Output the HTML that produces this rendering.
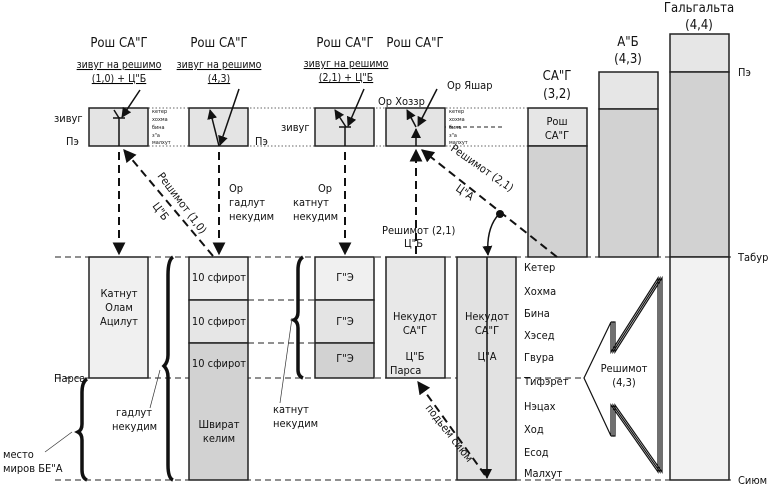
<!DOCTYPE html>
<html><head><meta charset="utf-8"><style>
body{margin:0;background:#fff}
svg{display:block}
text{font-family:"DejaVu Sans Condensed","Liberation Sans",sans-serif;fill:#111}
</style></head><body>
<svg width="770" height="486" viewBox="0 0 770 486" xmlns="http://www.w3.org/2000/svg">
<defs><marker id="a" viewBox="0 0 10 10" refX="9" refY="5" markerWidth="10" markerHeight="10" markerUnits="userSpaceOnUse" orient="auto"><path d="M0,0L10,5L0,10z" fill="#111"/></marker>
<marker id="b" viewBox="0 0 10 10" refX="9" refY="5" markerWidth="13" markerHeight="13" markerUnits="userSpaceOnUse" orient="auto"><path d="M0,0L10,5L0,10z" fill="#111"/></marker></defs>
<g stroke="#666" stroke-width="1" stroke-dasharray="1.5,2" fill="none">
<line x1="89" y1="108" x2="528" y2="108"/><line x1="89" y1="146" x2="528" y2="146"/>
</g>
<g stroke="#222" stroke-width="1" stroke-dasharray="6,4" fill="none">
<line x1="55" y1="257" x2="733" y2="257"/>
<line x1="55" y1="378" x2="585" y2="378"/>
<line x1="55" y1="480" x2="733" y2="480"/>
<line x1="248" y1="300" x2="315" y2="300"/>
<line x1="248" y1="343" x2="315" y2="343"/>
<line x1="89" y1="118" x2="148" y2="118" stroke-dasharray="2,2"/>
<line x1="315" y1="127" x2="374" y2="127" stroke-dasharray="4,3"/>
<line x1="386" y1="127" x2="505" y2="127" stroke-dasharray="4,3"/>
</g>
<g stroke="#222" stroke-width="1.5" fill="#e4e4e4">
<rect x="89" y="108" width="59" height="38"/>
<rect x="189" y="108" width="59" height="38"/>
<rect x="315" y="108" width="59" height="38"/>
<rect x="386" y="108" width="59" height="38"/>
<rect x="89" y="257" width="59" height="121" fill="#f0f0f0"/>
<rect x="189" y="257" width="59" height="43" fill="#f0f0f0"/>
<rect x="189" y="300" width="59" height="43" fill="#e6e6e6"/>
<rect x="189" y="343" width="59" height="137" fill="#d2d2d2"/>
<rect x="315" y="257" width="59" height="43" fill="#f0f0f0"/>
<rect x="315" y="300" width="59" height="43" fill="#e4e4e4"/>
<rect x="315" y="343" width="59" height="35" fill="#d2d2d2"/>
<rect x="386" y="257" width="59" height="121" fill="#e8e8e8"/>
<rect x="457" y="257" width="59" height="223" fill="#e2e2e2"/>
<rect x="528" y="108" width="59" height="38" fill="#e6e6e6"/>
<rect x="528" y="146" width="59" height="111" fill="#d2d2d2"/>
<rect x="599" y="72" width="59" height="37" fill="#e6e6e6"/>
<rect x="599" y="109" width="59" height="148" fill="#d2d2d2"/>
<rect x="670" y="34" width="59" height="38" fill="#e6e6e6"/>
<rect x="670" y="72" width="59" height="185" fill="#d2d2d2"/>
<rect x="670" y="257" width="59" height="223" fill="#f2f2f2"/>
</g>
<g font-size="13" text-anchor="middle">
<text x="119" y="47">Рош СА"Г</text><text x="219" y="47">Рош СА"Г</text>
<text x="345" y="47">Рош СА"Г</text><text x="415" y="47">Рош СА"Г</text>
<text x="557" y="80">СА"Г</text><text x="557" y="98">(3,2)</text>
<text x="628" y="46">А"Б</text><text x="628" y="63">(4,3)</text>
<text x="699" y="12">Гальгальта</text><text x="699" y="29">(4,4)</text>
</g>
<g font-size="10.5" text-anchor="middle" text-decoration="underline">
<text x="119" y="68">зивуг на решимо</text><text x="119" y="82">(1,0) + Ц"Б</text>
<text x="219" y="68">зивуг на решимо</text><text x="219" y="82">(4,3)</text>
<text x="346" y="67">зивуг на решимо</text><text x="346" y="81">(2,1) + Ц"Б</text>
</g>
<g font-size="11">
<text x="54" y="122">зивуг</text><text x="66" y="145">Пэ</text><text x="255" y="145">Пэ</text>
<text x="281" y="131">зивуг</text>
<text x="447" y="89">Ор Яшар</text><text x="378" y="105">Ор Хоззр</text>
<text x="229" y="192">Ор</text><text x="229" y="206">гадлут</text><text x="229" y="220">некудим</text>
<text x="318" y="192">Ор</text><text x="293" y="206">катнут</text><text x="293" y="220">некудим</text>
<text x="382" y="234">Решимот (2,1)</text><text x="404" y="247">Ц"Б</text>
<text x="738" y="76">Пэ</text><text x="738" y="261">Табур</text><text x="738" y="484">Сиюм</text>
<text x="54" y="382">Парса</text><text x="390" y="374">Парса</text>
<text x="116" y="416">гадлут</text><text x="112" y="430">некудим</text>
<text x="273" y="413">катнут</text><text x="273" y="427">некудим</text>
<text x="3" y="458">место</text><text x="3" y="472">миров БЕ"А</text>
</g>
<g font-size="5.5" fill="#333">
<text x="152" y="113">кетер</text><text x="152" y="121">хохма</text><text x="152" y="129">бина</text><text x="152" y="137">з"а</text><text x="152" y="144">малхут</text>
<text x="449" y="113">кетер</text><text x="449" y="121">хохма</text><text x="449" y="129">бина</text><text x="449" y="137">з"а</text><text x="449" y="144">малхут</text>
</g>
<g font-size="11" text-anchor="middle">
<text x="119" y="297">Катнут</text><text x="119" y="311">Олам</text><text x="119" y="325">Ацилут</text>
<text x="219" y="281">10 сфирот</text><text x="219" y="325">10 сфирот</text><text x="219" y="367">10 сфирот</text>
<text x="219" y="428">Швират</text><text x="219" y="442">келим</text>
<text x="345" y="281">Г"Э</text><text x="345" y="325">Г"Э</text><text x="345" y="362">Г"Э</text>
<text x="415" y="320">Некудот</text><text x="415" y="334">СА"Г</text><text x="415" y="360">Ц"Б</text>
<text x="487" y="320">Некудот</text><text x="487" y="334">СА"Г</text><text x="487" y="360">Ц"А</text>
<text x="557" y="125">Рош</text><text x="557" y="139">СА"Г</text>
<text x="624" y="372">Решимот</text><text x="624" y="386">(4,3)</text>
</g>
<g font-size="11">
<text x="524" y="271">Кетер</text><text x="524" y="295">Хохма</text><text x="524" y="317">Бина</text>
<text x="524" y="339">Хэсед</text><text x="524" y="361">Гвура</text><text x="524" y="385">Тифэрет</text>
<text x="524" y="410">Нэцах</text><text x="524" y="433">Ход</text><text x="524" y="456">Есод</text><text x="524" y="477">Малхут</text>
</g>
<g font-size="11">
<text transform="translate(157,176) rotate(53)">Решимот (1,0)</text>
<text transform="translate(152,206) rotate(53)">Ц"Б</text>
<text transform="translate(450,150) rotate(35)">Решимот (2,1)</text>
<text transform="translate(455,190) rotate(35)">Ц"А</text>
<text transform="translate(425,408) rotate(52)">подьем сиюм</text>
</g>
<g stroke="#111" stroke-width="1.5" fill="none">
<line x1="140" y1="90" x2="122" y2="117" marker-end="url(#a)"/>
<line x1="119" y1="117" x2="119" y2="146"/><line x1="113" y1="118" x2="125" y2="118"/>
<line x1="119" y1="118" x2="114" y2="110"/>
<line x1="239" y1="89" x2="220" y2="145" marker-end="url(#a)"/>
<line x1="219" y1="146" x2="210" y2="110" marker-end="url(#a)"/>
<line x1="364" y1="89" x2="348" y2="126" marker-end="url(#a)"/>
<line x1="346" y1="127" x2="335" y2="110" marker-end="url(#a)"/>
<line x1="345" y1="127" x2="345" y2="146"/><line x1="339" y1="127" x2="351" y2="127"/>
<line x1="437" y1="89" x2="418" y2="126" marker-end="url(#a)"/>
<line x1="416" y1="127" x2="407" y2="110" marker-end="url(#a)"/>
<line x1="416" y1="146" x2="416" y2="129" marker-end="url(#a)"/>
<line x1="487" y1="257" x2="487" y2="478" marker-end="url(#a)"/>
<path d="M499,214 Q486,228 488,255" marker-end="url(#a)"/>
</g>
<circle cx="500" cy="214" r="4" fill="#111"/>
<g stroke="#111" stroke-width="2" fill="none" stroke-dasharray="8,5">
<line x1="119" y1="152" x2="119" y2="254" marker-end="url(#b)"/>
<line x1="213" y1="256" x2="124" y2="150" marker-end="url(#b)"/>
<line x1="219" y1="152" x2="219" y2="254" marker-end="url(#b)"/>
<line x1="345" y1="152" x2="345" y2="254" marker-end="url(#b)"/>
<line x1="416" y1="254" x2="416" y2="150" marker-end="url(#b)"/>
<line x1="557" y1="257" x2="422" y2="150" marker-end="url(#b)"/>
<line x1="485" y1="475" x2="418" y2="382" marker-end="url(#b)"/>
</g>
<g stroke="#111" stroke-width="3.5" fill="none">
<path d="M173,257 Q168,260 168,275 L168,355 Q168,362 164,366 Q168,370 168,377 L168,465 Q168,478 173,480"/>
<path d="M303,257 Q298,260 298,270 L298,312 Q298,318 294,320 Q298,322 298,328 L298,370 Q298,376 303,378"/>
<path d="M87,379 Q82,382 82,392 L82,424 Q82,430 78,432 Q82,434 82,440 L82,470 Q82,478 87,480"/>
</g>
<g stroke="#333" stroke-width="0.7">
<line x1="160" y1="370" x2="150" y2="408"/><line x1="292" y1="318" x2="280" y2="403"/>
<line x1="72" y1="432" x2="45" y2="452"/>
</g>
<g stroke="#111" stroke-width="1.2" fill="none">
<path d="M584,378 L611,322 L611,352 L658,278 L658,472 L611,405 L611,436 Z"/>
<path d="M611,322 L613,322 L613,352 L660,278 L660,472 L613,405 L613,436 L611,436"/>
<path d="M613,322 L615,322 L615,352 L662,278 L662,472 L615,405 L615,436 L613,436"/>
</g>
</svg>
</body></html>
